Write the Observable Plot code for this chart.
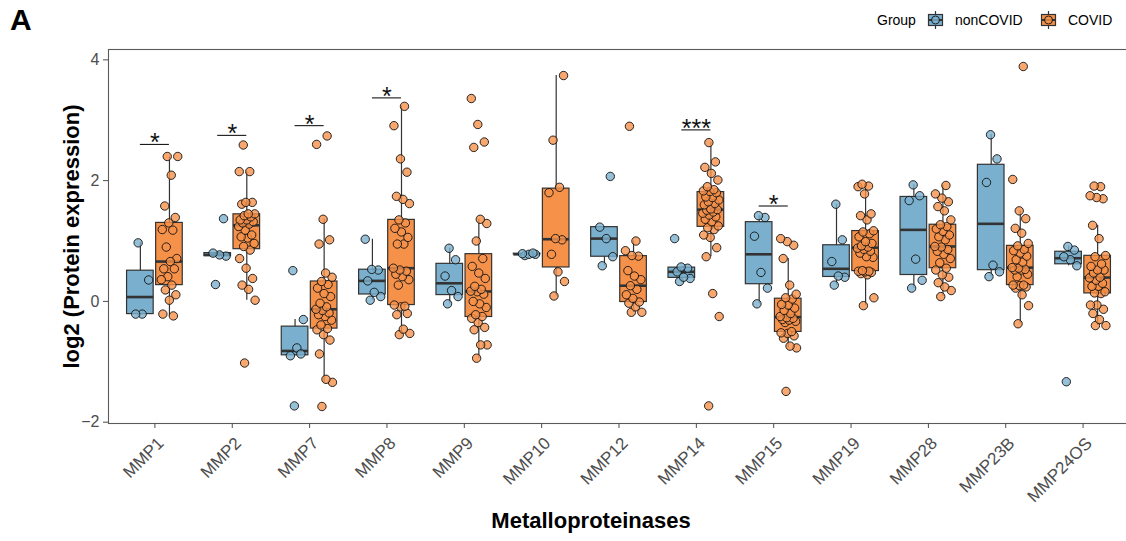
<!DOCTYPE html>
<html><head><meta charset="utf-8">
<script src="https://cdn.jsdelivr.net/npm/d3@7"></script>
<script src="https://cdn.jsdelivr.net/npm/@observablehq/plot@0.6"></script>
<style>
body{margin:0;background:#fff;font-family:"Liberation Sans",Arial,Helvetica,sans-serif;}
#wrap{position:relative;width:1126px;height:541px;overflow:hidden;background:#fff}
#hdr{position:relative;height:40px}
#tag{position:absolute;left:10px;top:3px;font-weight:bold;font-size:30px;line-height:34px;color:#000}
.lg{position:absolute;top:12px;font-size:14px;line-height:16px;color:#000;white-space:nowrap}
.key{position:absolute;top:11px}
</style></head><body>
<div id="wrap"><div id="hdr"><div id="tag">A</div><div id="legend"></div></div><div id="chart"></div></div>
<script>
const categories = ["MMP1","MMP2","MMP7","MMP8","MMP9","MMP10","MMP12","MMP14","MMP15","MMP19","MMP28","MMP23B","MMP24OS"];
const groups = ["nonCOVID","COVID"];
const groupColors = ["#7AB0CD","#F6914A"];

const nonCOVID = [
  [0.97, 0.355, -0.21, -0.21],
  [0.28, 0.75, 0.77, 0.80, 1.37],
  [0.51, -0.30, -0.77, -0.90, -0.87, -1.73],
  [0.02, 0.08, 0.15, 0.34, 0.52, 0.53, 1.03],
  [-0.04, 0.08, 0.18, 0.42, 0.69, 0.88],
  [0.76, 0.78, 0.78, 0.79, 0.80],
  [0.59, 0.74, 1.04, 1.23, 2.07],
  [0.33, 0.38, 0.40, 0.49, 0.55, 0.57, 1.04],
  [-0.04, 0.22, 0.48, 1.08, 1.39, 1.42],
  [0.27, 0.40, 0.42, 0.66, 1.02, 1.61],
  [0.22, 0.35, 0.70, 1.67, 1.75, 1.93],
  [0.41, 0.49, 0.60, 1.97, 2.36, 2.76],
  [-1.33, 0.59, 0.69, 0.74, 0.85, 0.91]
];

const COVID = [
  [2.40, 2.40, 2.09, 1.58, 1.39, 1.30, 1.19, 1.18, 0.90, 0.71, 0.66, 0.54, 0.54, 0.41, 0.36, 0.27, 0.19, 0.11, 0.02, -0.21, -0.24],
  [-1.02, 0.02, 0.20, 0.27, 0.38, 0.55, 0.71, 0.85, 0.91, 0.96, 1.05, 1.07, 1.10, 1.18, 1.24, 1.28, 1.30, 1.32, 1.35, 1.35, 1.40, 1.42, 1.45, 1.45, 1.61, 1.64, 1.64, 2.15, 2.15, 2.59],
  [-1.74, -1.34, -1.29, -0.87, -0.64, -0.55, -0.47, -0.45, -0.39, -0.31, -0.25, -0.22, -0.19, -0.15, -0.13, -0.09, -0.03, 0.08, 0.13, 0.22, 0.28, 0.33, 0.40, 0.47, 0.95, 1.02, 1.36, 2.60, 2.74],
  [-0.55, -0.53, -0.46, -0.22, -0.20, -0.09, -0.06, -0.08, 0.27, 0.36, 0.41, 0.45, 0.50, 0.52, 0.55, 0.95, 0.95, 1.06, 1.15, 1.21, 1.30, 1.35, 1.62, 1.69, 1.74, 2.14, 2.36, 2.91, 3.23],
  [-0.94, -0.72, -0.72, -0.47, -0.43, -0.35, -0.28, -0.25, -0.22, -0.10, -0.04, 0.00, 0.12, 0.16, 0.17, 0.20, 0.25, 0.38, 0.47, 0.58, 0.71, 1.00, 1.29, 1.36, 2.55, 2.64, 2.93, 3.36],
  [0.09, 0.33, 0.49, 0.78, 1.02, 1.04, 1.80, 1.89, 2.67, 3.74],
  [-0.18, -0.18, -0.09, -0.03, -0.01, 0.05, 0.11, 0.20, 0.26, 0.36, 0.42, 0.51, 0.75, 0.76, 0.84, 1.00, 2.90],
  [-1.73, -0.25, 0.13, 0.74, 0.89, 1.06, 1.10, 1.19, 1.22, 1.25, 1.32, 1.36, 1.40, 1.43, 1.46, 1.48, 1.51, 1.52, 1.53, 1.60, 1.62, 1.65, 1.68, 1.72, 1.73, 1.80, 1.82, 1.83, 1.85, 1.90, 2.01, 2.12, 2.22, 2.31, 2.63],
  [-1.49, -0.77, -0.74, -0.61, -0.57, -0.53, -0.52, -0.50, -0.35, -0.33, -0.31, -0.30, -0.28, -0.27, -0.25, -0.20, -0.15, -0.11, -0.06, -0.05, 0.04, 0.06, 0.12, 0.27, 0.71, 0.93, 0.99, 1.04],
  [-0.07, 0.06, 0.44, 0.46, 0.48, 0.49, 0.50, 0.50, 0.51, 0.73, 0.74, 0.80, 0.83, 0.86, 0.88, 0.90, 0.92, 0.96, 0.99, 1.07, 1.12, 1.15, 1.17, 1.35, 1.42, 1.45, 1.78, 1.90, 1.91, 1.94],
  [0.08, 0.18, 0.24, 0.31, 0.40, 0.44, 0.52, 0.55, 0.64, 0.71, 0.78, 0.83, 0.86, 0.90, 0.91, 1.02, 1.07, 1.10, 1.16, 1.20, 1.24, 1.27, 1.35, 1.50, 1.57, 1.65, 1.71, 1.78, 1.92],
  [-0.37, -0.07, 0.11, 0.22, 0.24, 0.26, 0.27, 0.27, 0.41, 0.45, 0.52, 0.52, 0.53, 0.55, 0.56, 0.65, 0.69, 0.75, 0.80, 0.84, 0.86, 0.92, 0.96, 1.13, 1.21, 1.37, 1.50, 2.02, 3.89],
  [-0.40, -0.40, -0.30, -0.20, -0.13, -0.06, -0.06, 0.13, 0.14, 0.16, 0.25, 0.25, 0.30, 0.35, 0.39, 0.40, 0.47, 0.52, 0.52, 0.58, 0.62, 0.74, 0.76, 1.04, 1.26, 1.70, 1.72, 1.75, 1.90, 1.91]
];

const sigCategories = ["MMP1","MMP2","MMP7","MMP8","MMP14","MMP15"];
const sigY = [2.60, 2.75, 2.91, 3.37, 2.84, 1.58];
const sigLabels = ["*","*","*","*","***","*"];

const yTicks = [-2, 0, 2, 4];

// ---- build tables ----
const dodge = {nonCOVID: -0.188, COVID: 0.188};
const halfBox = 0.172;
const points = [];
const stats = [];
categories.forEach((c, i) => {
  [["nonCOVID", nonCOVID[i]], ["COVID", COVID[i]]].forEach(([g, vals]) => {
    vals.forEach((v, k) => points.push({cat: c, ci: i, group: g, value: v, jit: (((k * 0.618034 + 0.37) % 1) - 0.5) * 0.22}));
    const s = vals.slice().sort(d3.ascending);
    const q1 = d3.quantileSorted(s, 0.25), q3 = d3.quantileSorted(s, 0.75), med = d3.quantileSorted(s, 0.5);
    const iqr = q3 - q1;
    const lo = d3.min(s.filter(v => v >= q1 - 1.5 * iqr));
    const hi = d3.max(s.filter(v => v <= q3 + 1.5 * iqr));
    const pos = i + dodge[g];
    stats.push({cat: c, group: g, pos, x1: pos - halfBox, x2: pos + halfBox, q1, q3, median: med, lo, hi});
  });
});
const sig = sigCategories.map((c, j) => {
  const i = categories.indexOf(c);
  return {x: i, x1: i + dodge.nonCOVID, x2: i + dodge.COVID, y: sigY[j], label: sigLabels[j]};
});

const allVals = points.map(d => d.value);
const [vmin, vmax] = d3.extent(allVals);
const pad = (vmax - vmin) * 0.05;
const xTicks = d3.range(categories.length);

const chart = Plot.plot({
  width: 1129,
  height: 501,
  marginLeft: 108,
  marginRight: 0,
  marginTop: 9,
  marginBottom: 118,
  style: {fontFamily: '"Liberation Sans", Arial, Helvetica, sans-serif', background: "white", maxWidth: "none", overflow: "hidden"},
  x: {domain: [-0.6, categories.length - 1 + 0.6]},
  y: {domain: [vmin - pad, vmax + pad]},
  color: {domain: groups, range: groupColors},
  marks: [
    Plot.frame({stroke: "#5a5a5a", strokeWidth: 1.1}),
    Plot.axisY({ticks: yTicks, tickFormat: d => d < 0 ? `\u2212${-d}` : `${d}`, tickSize: 5, tickPadding: 4, fontSize: 16, color: "#4d4d4d", label: null}),
    // tick marks only
    Plot.axisX({ticks: xTicks, tickFormat: () => "", tickSize: 5, color: "#4d4d4d", label: null}),
    // rotated labels, nudged so the top-right corner sits under the tick
    Plot.axisX({ticks: xTicks, tickFormat: i => categories[i], tickRotate: -45, tickSize: 0, tickPadding: 7, dx: 6, dy: 10, fontSize: 17, color: "#4d4d4d", label: null}),
    Plot.ruleX(stats, {x: "pos", y1: "lo", y2: "hi", stroke: "#333", strokeWidth: 1.2}),
    Plot.rect(stats, {x1: "x1", x2: "x2", y1: "q1", y2: "q3", fill: "group", stroke: "#333", strokeWidth: 1.2}),
    Plot.ruleY(stats, {y: "median", x1: "x1", x2: "x2", stroke: "#333", strokeWidth: 2.6}),
    Plot.dot(points, {x: d => d.ci + dodge[d.group] + d.jit, y: "value", r: 4.2, fill: "group", fillOpacity: 0.8, stroke: "#111", strokeWidth: 0.9}),
    Plot.ruleY(sig, {y: "y", x1: "x1", x2: "x2", stroke: "#000", strokeWidth: 1}),
    Plot.text(sig, {x: "x", y: "y", text: "label", fontSize: 25, lineAnchor: "bottom", dy: 7, fill: "#111"}),
    Plot.text(["log2 (Protein expression)"], {frameAnchor: "left", textAnchor: "middle", rotate: -90, dx: -37, fontSize: 22, fontWeight: "bold", fill: "#000"}),
    Plot.text(["Metalloproteinases"], {frameAnchor: "bottom", textAnchor: "middle", dx: -28, dy: 104, fontSize: 22, fontWeight: "bold", fill: "#000"})
  ]
});
document.getElementById("chart").appendChild(chart);

// ---- legend (boxplot keys) ----
function keySvg(color) {
  return `<svg width="17" height="18" viewBox="0 0 17 18">
    <line x1="8.5" y1="0" x2="8.5" y2="18" stroke="#333" stroke-width="1.2"/>
    <rect x="1.5" y="3.5" width="14" height="11" fill="${color}" stroke="#333" stroke-width="1.2"/>
    <line x1="1.5" y1="9" x2="15.5" y2="9" stroke="#333" stroke-width="2"/>
    <circle cx="8.5" cy="9" r="4" fill="${color}" fill-opacity="0.8" stroke="#111" stroke-width="0.9"/>
  </svg>`;
}
const lg = document.getElementById("legend");
lg.innerHTML =
  `<div class="lg" style="left:877px">Group</div>` +
  `<div class="key" style="left:927px">${keySvg(groupColors[0])}</div>` +
  `<div class="lg" style="left:955px">${groups[0]}</div>` +
  `<div class="key" style="left:1040px">${keySvg(groupColors[1])}</div>` +
  `<div class="lg" style="left:1068px">${groups[1]}</div>`;
</script>
</body></html>
